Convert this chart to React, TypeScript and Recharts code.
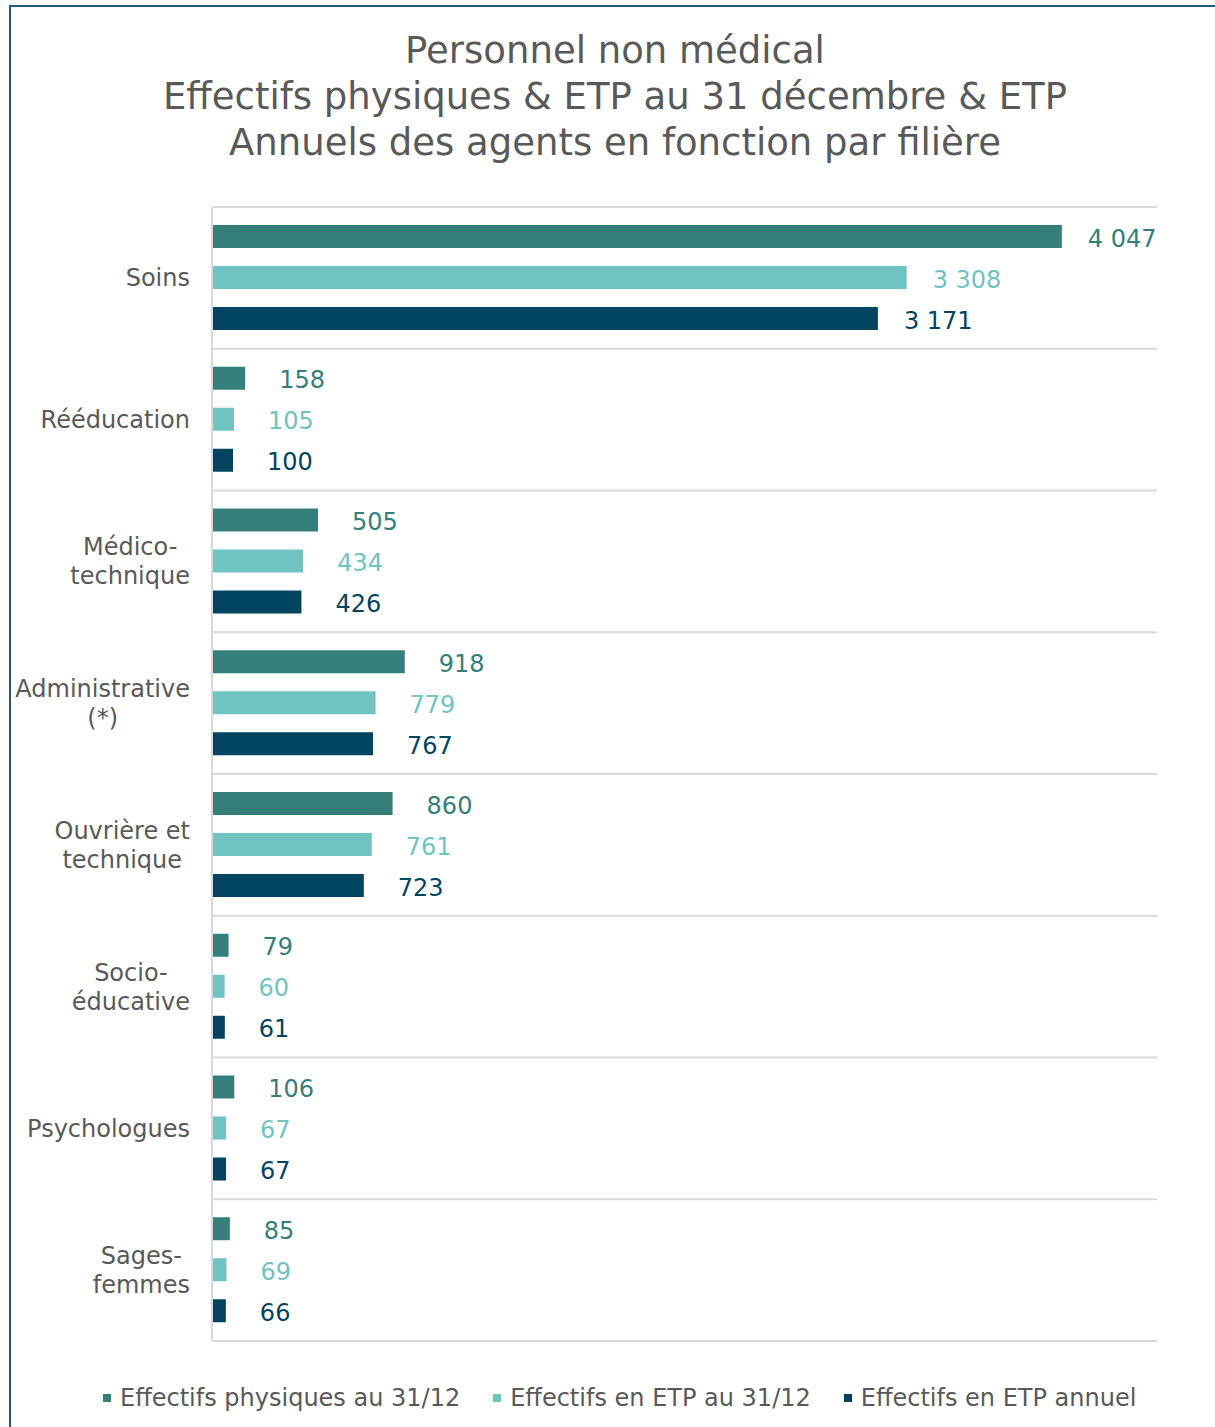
import { BarChart, Bar, XAxis, YAxis, CartesianGrid, LabelList } from 'recharts';

// Categories (filières) and values
const categories = [
  'Soins',
  'Rééducation',
  'Médico-\ntechnique',
  'Administrative\n(*)',
  'Ouvrière et\ntechnique',
  'Socio-\néducative',
  'Psychologues',
  'Sages-\nfemmes',
];
const physiques = [4047, 158, 505, 918, 860, 79, 106, 85];
const etp3112 = [3308, 105, 434, 779, 761, 60, 67, 69];
const etpAnnuel = [3171, 100, 426, 767, 723, 61, 67, 66];

const seriesNames = ['Effectifs physiques au 31/12', 'Effectifs en ETP au 31/12', 'Effectifs en ETP annuel'];
const seriesColors = ['#367e7a', '#6fc3c0', '#00445f'];

const titleLines = [
  'Personnel non médical',
  'Effectifs physiques & ETP au 31 décembre & ETP',
  'Annuels des agents en fonction par filière',
];

const FONT = "'DejaVu Sans', Verdana, sans-serif";
const TEXT = '#595959';

const data = categories.map((name, i) => ({
  name,
  physiques: physiques[i],
  etp3112: etp3112[i],
  etpAnnuel: etpAnnuel[i],
}));

let ctx: CanvasRenderingContext2D | null = null;
function measure(text: string) {
  if (!ctx) ctx = document.createElement('canvas').getContext('2d');
  if (!ctx) return text.length * 14;
  ctx.font = `24px ${FONT}`;
  return ctx.measureText(text).width;
}

function formatNum(v: number) {
  return String(v).replace(/\B(?=(\d{3})+(?!\d))/g, ' ');
}

function CategoryTick(props: any) {
  const { x, y, payload } = props;
  const lines = String(payload.value).split('\n');
  const maxW = Math.max(...lines.map(measure));
  const cx = x - maxW / 2;
  const lh = 29;
  const startY = y - ((lines.length - 1) * lh) / 2;
  return (
    <text x={cx} y={startY} textAnchor="middle" fill={TEXT} fontSize={24} fontFamily={FONT}>
      {lines.map((l, i) => (
        <tspan key={i} x={cx} y={startY + i * lh} dy="0.35em">
          {l}
        </tspan>
      ))}
    </text>
  );
}

function makeLabel(color: string) {
  return (props: any) => {
    const { x, y, width, height, value } = props;
    const off = value >= 1000 ? 26 : 34;
    return (
      <text
        x={x + width + off}
        y={y + height / 2}
        dy="0.42em"
        fill={color}
        fontSize={24}
        fontFamily={FONT}
      >
        {formatNum(value)}
      </text>
    );
  };
}

export default function App() {
  const W = 1215;
  const H = 1427;
  const margin = { top: 207, right: 58, bottom: 86, left: 0 };
  const plotH = H - margin.top - margin.bottom;
  const band = plotH / categories.length;

  return (
    <div
      style={{
        position: 'absolute',
        left: 0,
        top: 0,
        width: W,
        height: H,
        background: '#fff',
        overflow: 'hidden',
        fontFamily: FONT,
      }}
    >
      {/* Frame */}
      <div
        style={{
          position: 'absolute',
          left: 9,
          top: 5,
          width: W,
          height: H,
          borderTop: '2px solid #1f5b7a',
          borderLeft: '2px solid #1f5b7a',
        }}
      />

      {/* Title */}
      <div style={{ position: 'absolute', top: 28, left: 0, width: 1230, textAlign: 'center' }}>
        {titleLines.map((t, i) => (
          <div key={i} style={{ fontSize: 37, lineHeight: '46px', color: TEXT }}>
            {t}
          </div>
        ))}
      </div>

      <div style={{ position: 'absolute', left: 0, top: 0 }}>
        <BarChart
          width={W}
          height={H}
          data={data}
          layout="vertical"
          margin={margin}
          barSize={23}
          barGap={18}
        >
          <CartesianGrid
            stroke="#d9d9d9"
            strokeWidth={2}
            vertical={false}
            horizontalCoordinatesGenerator={({ offset }: any) =>
              categories.map((_, i) => offset.top + i * band).concat([offset.top + plotH])
            }
          />
          <XAxis type="number" domain={[0, 4500]} hide />
          <YAxis
            type="category"
            dataKey="name"
            width={212}
            axisLine={{ stroke: '#d9d9d9', strokeWidth: 2 }}
            tickLine={false}
            tick={<CategoryTick />}
            tickMargin={16}
            interval={0}
          />
          <Bar dataKey="physiques" fill={seriesColors[0]} isAnimationActive={false}>
            <LabelList dataKey="physiques" content={makeLabel(seriesColors[0])} />
          </Bar>
          <Bar dataKey="etp3112" fill={seriesColors[1]} isAnimationActive={false}>
            <LabelList dataKey="etp3112" content={makeLabel(seriesColors[1])} />
          </Bar>
          <Bar dataKey="etpAnnuel" fill={seriesColors[2]} isAnimationActive={false}>
            <LabelList dataKey="etpAnnuel" content={makeLabel(seriesColors[2])} />
          </Bar>
        </BarChart>
      </div>

      {/* Legend */}
      <div
        style={{
          position: 'absolute',
          top: 1383,
          left: 103,
          display: 'flex',
          alignItems: 'center',
          fontSize: 24,
          lineHeight: '30px',
          color: TEXT,
        }}
      >
        {seriesNames.map((n, i) => (
          <div key={n} style={{ display: 'flex', alignItems: 'center', marginRight: 33 }}>
            <span
              style={{
                display: 'inline-block',
                width: 8,
                height: 8,
                background: seriesColors[i],
                marginRight: 9,
              }}
            />
            <span>{n}</span>
          </div>
        ))}
      </div>
    </div>
  );
}
